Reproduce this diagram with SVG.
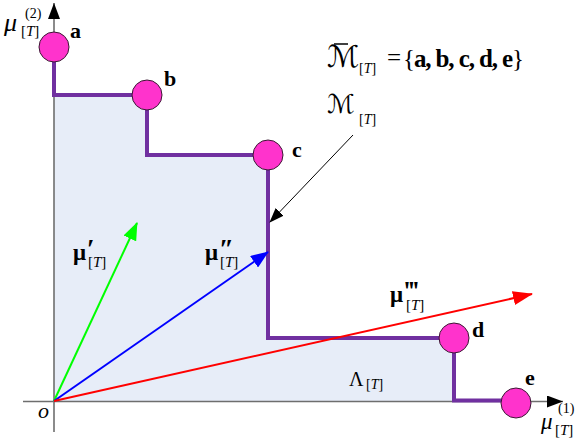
<svg xmlns="http://www.w3.org/2000/svg" width="582" height="441" viewBox="0 0 582 441">
<style>
.ax{stroke:#6e6e6e;stroke-width:1.6;fill:none}
.stair{stroke:#7030A0;stroke-width:4;fill:none;stroke-linejoin:miter}
.pt{fill:#FF33CC;stroke:#3a1a33;stroke-width:1}
text{font-family:'Liberation Serif','Times New Roman','DejaVu Serif',serif;fill:#000}
.lbl{font-weight:bold;font-size:22px}
.mi{font-style:italic}
.bm{font-weight:bold}
.nw{font-weight:normal}
.it{font-style:italic}
.pr{font-weight:bold;font-size:27px}
</style>
<defs>
<marker id="axh" viewBox="0 0 16 12" refX="16" refY="6" markerWidth="16" markerHeight="12" markerUnits="userSpaceOnUse" orient="auto"><path d="M0,0 L16,6 L0,12 z" fill="#000"/></marker>
<marker id="gh" viewBox="0 0 18 14" refX="17" refY="7" markerWidth="18" markerHeight="14" markerUnits="userSpaceOnUse" orient="auto"><path d="M0,0 L18,7 L0,14 z" fill="#00FF00"/></marker>
<marker id="bh" viewBox="0 0 18 14" refX="17" refY="7" markerWidth="18" markerHeight="14" markerUnits="userSpaceOnUse" orient="auto"><path d="M0,0 L18,7 L0,14 z" fill="#0000FF"/></marker>
<marker id="rh" viewBox="0 0 20 14" refX="19" refY="7" markerWidth="20" markerHeight="14" markerUnits="userSpaceOnUse" orient="auto"><path d="M0,0 L20,7 L0,14 z" fill="#FF0000"/></marker>
<marker id="kh" viewBox="0 0 15 11" refX="14" refY="5.5" markerWidth="15" markerHeight="11" markerUnits="userSpaceOnUse" orient="auto"><path d="M0,0 L15,5.5 L0,11 z" fill="#000"/></marker>
</defs>

<g id="region">
<polygon points="54,95 147,95 147,155 268,155 268,338 454,338 454,401 54,401" fill="#E7EDF8"/>
</g>

<g id="axes">
<line class="ax" x1="54" y1="432" x2="54" y2="3" marker-end="url(#axh)"/>
<line class="ax" x1="23" y1="401.5" x2="563" y2="401.5" marker-end="url(#axh)"/>
</g>

<g id="connectors">
<polyline class="stair" points="54,47 54,95 147,95 147,155 268,155 268,338 454,338 454,400.5 516,400.5"/>
<line x1="54" y1="401" x2="137" y2="223" stroke="#00FF00" stroke-width="2" marker-end="url(#gh)"/>
<line x1="54" y1="401" x2="268" y2="252" stroke="#0000FF" stroke-width="2" marker-end="url(#bh)"/>
<line x1="54" y1="401" x2="532" y2="294" stroke="#FF0000" stroke-width="2" marker-end="url(#rh)"/>
<line x1="353" y1="135" x2="270" y2="222" stroke="#000" stroke-width="1" marker-end="url(#kh)"/>
</g>

<g id="node-a"><circle class="pt" cx="54" cy="47" r="15"/><text class="lbl" x="70" y="38">a</text></g>
<g id="node-b"><circle class="pt" cx="147" cy="95" r="15"/><text class="lbl" x="164" y="86">b</text></g>
<g id="node-c"><circle class="pt" cx="268" cy="155" r="15"/><text class="lbl" x="292" y="157">c</text></g>
<g id="node-d"><circle class="pt" cx="454" cy="338" r="15"/><text class="lbl" x="472" y="337">d</text></g>
<g id="node-e"><circle class="pt" cx="516" cy="403" r="15"/><text class="lbl" x="525" y="385">e</text></g>

<g id="labels">
<text x="4" y="31" font-size="26"><tspan class="it">μ</tspan><tspan x="25" y="18" font-size="14">(2)</tspan><tspan x="21" y="36" font-size="15">[<tspan class="it">T</tspan>]</tspan></text>
<text x="541" y="429" font-size="23"><tspan class="it">μ</tspan><tspan x="558" y="413" font-size="14">(1)</tspan><tspan x="555" y="435" font-size="15">[<tspan class="it">T</tspan>]</tspan></text>
<text class="mi" x="38" y="418" font-size="22">o</text>
<text x="327" y="67" font-size="30" font-style="italic" style="font-family:'DejaVu Serif','DejaVu Sans',serif">ℳ</text>
<line x1="334" y1="44" x2="348" y2="44" stroke="#000" stroke-width="1.5"/>
<text x="359" y="73" font-size="14">[<tspan class="it">T</tspan>]</text>
<text x="387" y="66" font-size="25">=</text>
<text class="bm" x="403" y="67" font-size="25" textLength="121" lengthAdjust="spacing"><tspan class="nw">{</tspan>a, b, c, d, e<tspan class="nw">}</tspan></text>
<text x="327" y="113" font-size="26" font-style="italic" style="font-family:'DejaVu Serif','DejaVu Sans',serif">ℳ</text>
<text x="359" y="124" font-size="14">[<tspan class="it">T</tspan>]</text>
<text class="bm" x="73" y="260" font-size="23">μ<tspan class="pr" x="87" y="258">′</tspan><tspan class="nw" x="88" y="267" font-size="15">[<tspan class="it">T</tspan>]</tspan></text>
<text class="bm" x="205" y="260" font-size="23">μ<tspan class="pr" x="219" y="258">″</tspan><tspan class="nw" x="220" y="267" font-size="15">[<tspan class="it">T</tspan>]</tspan></text>
<text class="bm" x="390" y="302" font-size="23">μ<tspan class="pr" x="404" y="300">‴</tspan><tspan class="nw" x="406" y="310" font-size="15">[<tspan class="it">T</tspan>]</tspan></text>
<text x="349" y="386" font-size="20">Λ<tspan x="366" y="389" font-size="14">[<tspan class="it">T</tspan>]</tspan></text>
</g>
</svg>
